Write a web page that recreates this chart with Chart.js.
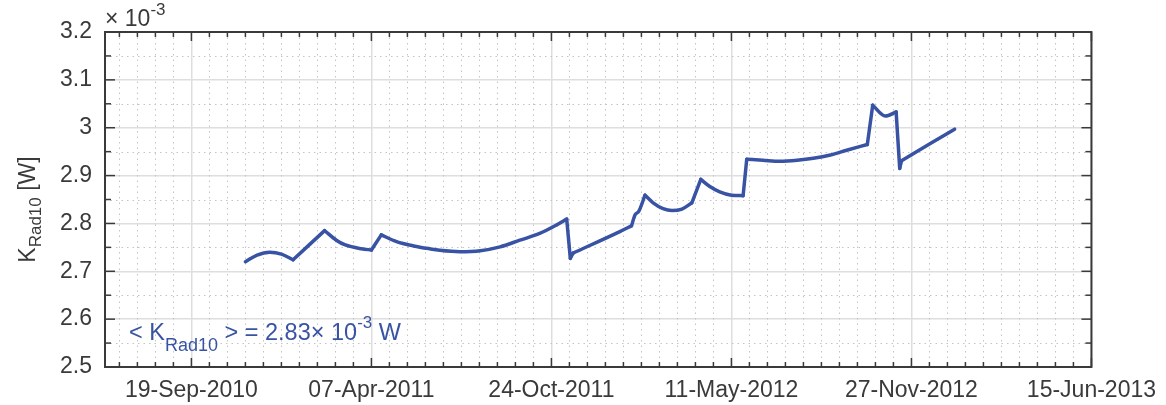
<!DOCTYPE html>
<html lang="en">
<head>
<meta charset="UTF-8">
<title>K_Rad10</title>
<script src="https://cdn.jsdelivr.net/npm/chart.js"></script>
<style>
  html, body { margin: 0; padding: 0; background: #fff; }
</style>
</head>
<body>
<canvas id="kChart" width="1166" height="405"></canvas>
<script>
// K_Rad10 values in units of 1e-3 W
const dates = [
  '2010-11-18', '2010-12-01', '2010-12-15', '2010-12-28', '2011-01-10',
  '2011-02-14', '2011-02-27', '2011-03-09', '2011-03-27', '2011-04-07',
  '2011-04-18', '2011-05-05', '2011-05-24', '2011-06-11', '2011-06-22',
  '2011-07-14', '2011-08-06', '2011-08-28', '2011-09-19', '2011-10-11',
  '2011-10-30', '2011-11-10', '2011-11-14', '2011-11-17', '2012-01-08',
  '2012-01-21', '2012-01-25', '2012-01-29', '2012-02-05', '2012-02-14',
  '2012-02-25', '2012-03-06', '2012-03-17', '2012-03-28', '2012-04-07',
  '2012-04-17', '2012-04-28', '2012-05-11', '2012-05-24', '2012-05-28',
  '2012-06-15', '2012-07-04', '2012-07-23', '2012-08-10', '2012-08-29',
  '2012-09-16', '2012-10-09', '2012-10-15', '2012-10-29', '2012-11-10',
  '2012-11-14', '2012-11-16', '2012-12-18', '2013-01-14'
];
const kRad10 = [
  2.720, 2.734, 2.740, 2.736, 2.724,
  2.785, 2.765, 2.755, 2.747, 2.7445,
  2.776, 2.762, 2.753, 2.747, 2.744,
  2.741, 2.743, 2.751, 2.765, 2.779,
  2.797, 2.809, 2.727, 2.738, 2.783,
  2.795, 2.818, 2.825, 2.859, 2.843,
  2.831, 2.827, 2.830, 2.843, 2.892,
  2.877, 2.866, 2.859, 2.858, 2.934,
  2.932, 2.930, 2.932, 2.936, 2.943,
  2.953, 2.965, 3.047, 3.0245, 3.033,
  2.915, 2.931, 2.967, 2.997
];
// dates where the curve has a sharp corner (jumps / cusps)
const cornerDates = [
  '2011-01-10', '2011-02-14', '2011-04-07', '2011-04-18', '2011-11-10',
  '2011-11-14', '2011-11-17', '2012-01-21', '2012-02-05', '2012-03-28',
  '2012-04-07', '2012-05-24', '2012-05-28', '2012-10-09', '2012-10-15',
  '2012-11-10', '2012-11-14', '2012-11-16'
];

const xRange = ['2010-06-15', '2013-06-15'];
const xTickDates = ['2010-09-19', '2011-04-07', '2011-10-24', '2012-05-11', '2012-11-27', '2013-06-15'];
const yTicks = [2.5, 2.6, 2.7, 2.8, 2.9, 3.0, 3.1, 3.2];
const meanValue = '2.83';

const MONTHS = ['Jan', 'Feb', 'Mar', 'Apr', 'May', 'Jun', 'Jul', 'Aug', 'Sep', 'Oct', 'Nov', 'Dec'];
const FONT = '"Liberation Sans", Arial, sans-serif';
const AXIS_COLOR = '#3a3a3a';
const LINE_COLOR = '#3953a4';

function toDay(s) {
  const [y, m, d] = s.split('-').map(Number);
  return Date.UTC(y, m - 1, d) / 86400000;
}
function fmtDay(v) {
  const d = new Date(Math.round(v) * 86400000);
  const dd = String(d.getUTCDate()).padStart(2, '0');
  return dd + '-' + MONTHS[d.getUTCMonth()] + '-' + d.getUTCFullYear();
}

// split the series at the corners so each smooth arc can be drawn as its own curve
function buildPieces() {
  const pieces = [];
  let cur = [];
  dates.forEach((d, i) => {
    cur.push({ x: toDay(d), y: kRad10[i] });
    if (cornerDates.includes(d) && i > 0) {
      pieces.push(cur);
      cur = [{ x: toDay(d), y: kRad10[i] }];
    }
  });
  if (cur.length > 1) pieces.push(cur);
  return pieces.map(p => ({
    data: p,
    borderColor: LINE_COLOR,
    borderWidth: 3.5,
    borderCapStyle: 'round',
    borderJoinStyle: 'miter',
    pointRadius: 0,
    cubicInterpolationMode: 'monotone',
    fill: false
  }));
}

// draws a row of text pieces, each {t, size, dy}
function drawPieces(ctx, pieces, x, y) {
  pieces.forEach(p => {
    ctx.font = p.size + 'px ' + FONT;
    ctx.fillText(p.t, x, y + (p.dy || 0));
    x += ctx.measureText(p.t).width;
  });
}
function piecesWidth(ctx, pieces) {
  let w = 0;
  pieces.forEach(p => { ctx.font = p.size + 'px ' + FONT; w += ctx.measureText(p.t).width; });
  return w;
}

// minor ticks every 20 days / 0.05, major ticks and box drawn inward like matlab
const matlabAxes = {
  id: 'matlabAxes',
  minorX(chart) {
    const x = chart.scales.x, out = [];
    const first = toDay(xTickDates[0]);
    for (let v = first - 20 * Math.floor((first - x.min) / 20); v <= x.max; v += 20) {
      if ((v - first) % 200 !== 0) out.push(v);
    }
    return out;
  },
  minorY() {
    return yTicks.slice(0, -1).map(v => v + 0.05);
  },
  beforeDatasetsDraw(chart) {
    const { ctx, chartArea: a, scales } = chart;
    ctx.save();
    ctx.strokeStyle = '#c4c4c4';
    ctx.lineWidth = 1;
    ctx.setLineDash([1.5, 4]);
    this.minorX(chart).forEach(v => {
      const px = Math.round(scales.x.getPixelForValue(v)) + 0.5;
      ctx.beginPath(); ctx.moveTo(px, a.top); ctx.lineTo(px, a.bottom); ctx.stroke();
    });
    this.minorY().forEach(v => {
      const py = Math.round(scales.y.getPixelForValue(v)) + 0.5;
      ctx.beginPath(); ctx.moveTo(a.left, py); ctx.lineTo(a.right, py); ctx.stroke();
    });
    ctx.restore();
  },
  afterDatasetsDraw(chart) {
    const { ctx, chartArea: a, scales } = chart;
    ctx.save();
    ctx.strokeStyle = AXIS_COLOR;
    ctx.lineWidth = 1.5;
    const tick = (x1, y1, x2, y2) => { ctx.beginPath(); ctx.moveTo(x1, y1); ctx.lineTo(x2, y2); ctx.stroke(); };
    xTickDates.forEach(d => {
      const px = scales.x.getPixelForValue(toDay(d));
      tick(px, a.bottom, px, a.bottom - 9); tick(px, a.top, px, a.top + 9);
    });
    this.minorX(chart).forEach(v => {
      const px = scales.x.getPixelForValue(v);
      tick(px, a.bottom, px, a.bottom - 5); tick(px, a.top, px, a.top + 5);
    });
    yTicks.forEach(v => {
      const py = scales.y.getPixelForValue(v);
      tick(a.left, py, a.left + 10, py); tick(a.right, py, a.right - 10, py);
    });
    this.minorY().forEach(v => {
      const py = scales.y.getPixelForValue(v);
      tick(a.left, py, a.left + 6, py); tick(a.right, py, a.right - 6, py);
    });
    ctx.lineWidth = 2;
    ctx.strokeRect(a.left, a.top, a.right - a.left, a.bottom - a.top);
    ctx.restore();
  },
  afterDraw(chart) {
    const { ctx, chartArea: a } = chart;
    ctx.save();
    ctx.textBaseline = 'alphabetic';

    // exponent above the y axis
    ctx.fillStyle = AXIS_COLOR;
    drawPieces(ctx, [
      { t: '\u00d7 10', size: 23 },
      { t: '-3', size: 17, dy: -11 }
    ], a.left, a.top - 6);

    // y axis title, rotated
    const title = [
      { t: 'K', size: 23 },
      { t: 'Rad10', size: 17, dy: 6 },
      { t: ' [W]', size: 23 }
    ];
    ctx.translate(35, (a.top + a.bottom) / 2 + 10);
    ctx.rotate(-Math.PI / 2);
    drawPieces(ctx, title, -piecesWidth(ctx, title) / 2, 0);
    ctx.setTransform(1, 0, 0, 1, 0, 0);

    // mean value note
    ctx.fillStyle = LINE_COLOR;
    drawPieces(ctx, [
      { t: '< K', size: 23.5 },
      { t: 'Rad10', size: 18, dy: 11 },
      { t: ' > = ' + meanValue + '\u00d7 10', size: 23.5 },
      { t: '-3', size: 17, dy: -12 },
      { t: ' W', size: 23.5 }
    ], a.left + 24, a.bottom - 27);
    ctx.restore();
  }
};

new Chart(document.getElementById('kChart'), {
  type: 'line',
  data: { datasets: buildPieces() },
  options: {
    responsive: false,
    animation: false,
    devicePixelRatio: 1,
    layout: { padding: { top: 32, right: 74, left: 0, bottom: 0 } },
    plugins: { legend: { display: false }, tooltip: { enabled: false } },
    scales: {
      x: {
        type: 'linear',
        min: toDay(xRange[0]),
        max: toDay(xRange[1]),
        afterFit: s => { s.height = 38; },
        afterBuildTicks: s => { s.ticks = xTickDates.map(d => ({ value: toDay(d) })); },
        ticks: {
          callback: v => fmtDay(v),
          autoSkip: false, maxRotation: 0, padding: 10,
          color: AXIS_COLOR, font: { family: FONT, size: 23 }
        },
        grid: { color: '#dedede', lineWidth: 1.5, drawTicks: false },
        border: { display: false }
      },
      y: {
        min: 2.5,
        max: 3.2,
        afterFit: s => { s.width = 105; },
        afterBuildTicks: s => { s.ticks = yTicks.map(v => ({ value: v })); },
        ticks: {
          callback: v => String(+v.toFixed(1)),
          padding: 13,
          color: AXIS_COLOR, font: { family: FONT, size: 23 }
        },
        grid: { color: '#dedede', lineWidth: 1.5, drawTicks: false },
        border: { display: false }
      }
    }
  },
  plugins: [matlabAxes]
});
</script>
</body>
</html>
